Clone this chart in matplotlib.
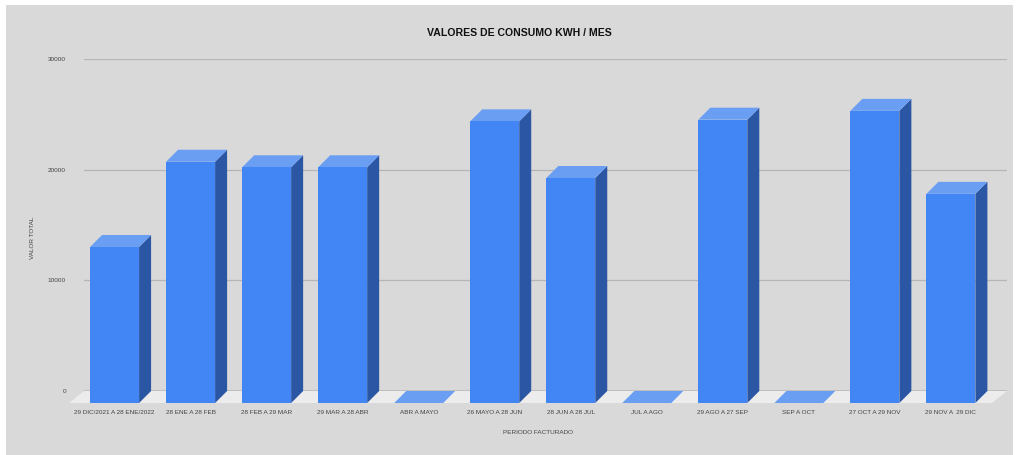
import matplotlib.pyplot as plt
from matplotlib.patches import Polygon, Rectangle

# datos
periodos = [
  '29 DIC/2021 A 28 ENE/2022', '28 ENE A 28 FEB', '28 FEB A 29 MAR', '29 MAR A 28 ABR',
  'ABR A MAYO', '26 MAYO A 28 JUN', '28 JUN A 28 JUL', 'JUL A AGO',
  '29 AGO A 27 SEP', 'SEP A OCT', '27 OCT A 29 NOV', '29 NOV A  29 DIC',
]
consumo = [14100, 21800, 21300, 21300, 0, 25450, 20330, 0, 25600, 0, 26400, 18900]
y_ticks = [0, 10000, 20000, 30000]

# colores
C_FRONT = '#4285f4'
C_TOP = '#6a9ef2'
C_SIDE = '#2a56a4'
C_BG = '#d9d9d9'
C_FLOOR = '#ececec'
C_TEXT = '#444444'
FONT = ['Liberation Sans', 'DejaVu Sans']

W, H, DPI = 1018, 455, 100
fig = plt.figure(figsize=(W / DPI, H / DPI), dpi=DPI)
fig.patch.set_facecolor('white')
fig.patches.append(Rectangle((6 / W, 0), 1 - 11 / W, 1 - 5 / H, transform=fig.transFigure,
                             facecolor=C_BG, edgecolor='none', zorder=-10))

# ejes en el plano trasero
x0, x1, y0, y1 = 84, 1007, 391, 59
ax = fig.add_axes([x0 / W, (H - y0) / H, (x1 - x0) / W, (y0 - y1) / H])
ax.set_facecolor('none')
for s in ax.spines.values():
  s.set_visible(False)

n = len(periodos)
xlim = (-0.56, n - 1 + 0.58)
ylim = (0, 30000)
ax.set_xlim(*xlim)
ax.set_ylim(*ylim)

# pixeles -> datos
px_x = (xlim[1] - xlim[0]) / (x1 - x0)
px_y = (ylim[1] - ylim[0]) / (y0 - y1)
dx, dy = 12 * px_x, 12 * px_y      # profundidad de la barra
fdx = 15 * px_x                     # profundidad del piso
w = 49 * px_x

# piso
floor = Polygon([(xlim[0], 0), (xlim[1], 0), (xlim[1] - fdx, -dy), (xlim[0] - fdx, -dy)],
                closed=True, facecolor=C_FLOOR, edgecolor='none', clip_on=False, zorder=1)
ax.add_patch(floor)

# lineas de cuadricula
for t in y_ticks:
  if t == 0:
    ax.axhline(t, color='#555555', lw=1.0, zorder=2)
  else:
    ax.axhline(t, color='#b5b5b5', lw=0.9, zorder=0.5)

# barras 3D: cara lateral, superior y frontal
for i, v in enumerate(consumo):
  l, r = i - w / 2, i + w / 2
  if v > 0:
    side = Polygon([(r - dx, -dy), (r, 0), (r, v), (r - dx, v - dy)], closed=True,
                   facecolor=C_SIDE, edgecolor='none', clip_on=False, zorder=3)
    ax.add_patch(side)
  top = Polygon([(l - dx, v - dy), (r - dx, v - dy), (r, v), (l, v)], closed=True,
                facecolor=C_TOP, edgecolor='none', clip_on=False, zorder=3)
  ax.add_patch(top)
ax.bar([i - dx for i in range(n)], consumo, width=w, bottom=-dy, color=C_FRONT,
       edgecolor='none', zorder=4, clip_on=False)

# ejes y etiquetas
ax.set_yticks(y_ticks)
ax.set_yticklabels([str(t) for t in y_ticks])
ax.tick_params(axis='y', length=0, pad=13, labelsize=4.6, labelcolor=C_TEXT)
ax.set_xticks([i - dx for i in range(n)])
ax.set_xticklabels(periodos)
ax.tick_params(axis='x', length=0, pad=14, labelsize=4.6, labelcolor=C_TEXT)
for lab in ax.get_xticklabels() + ax.get_yticklabels():
  lab.set_fontfamily(FONT)

fig.text(519 / W, 1 - 33 / H, 'VALORES DE CONSUMO KWH / MES', ha='center', va='center',
         fontsize=7.6, fontweight='bold', family=FONT, color='#111111')
fig.text(538 / W, 1 - 433 / H, 'PERIODO FACTURADO', ha='center', va='center',
         fontsize=4.6, family=FONT, color=C_TEXT)
fig.text(33 / W, 1 - 238 / H, 'VALOR TOTAL', ha='center', va='center', rotation=90,
         fontsize=4.6, family=FONT, color=C_TEXT)

fig.savefig('out.png', dpi=DPI, facecolor=fig.get_facecolor())
